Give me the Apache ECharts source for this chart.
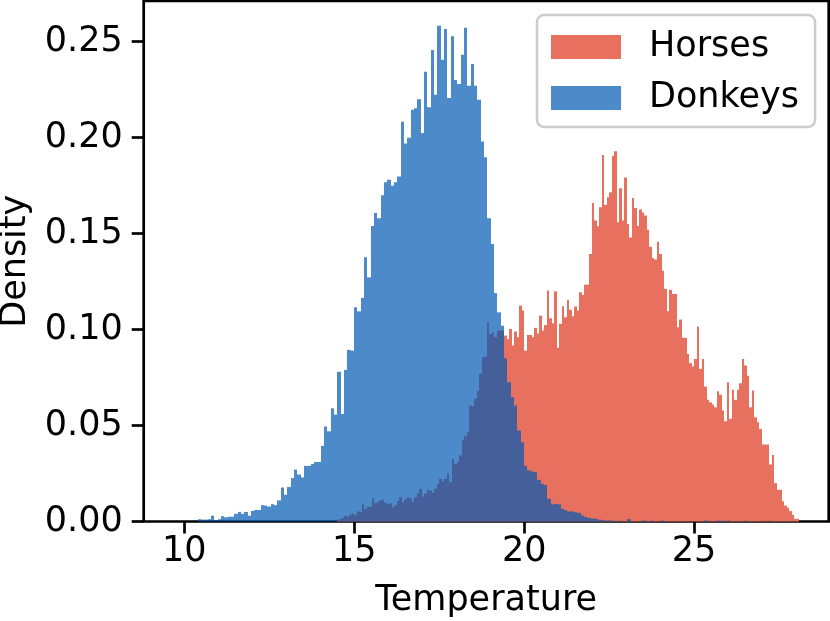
<!DOCTYPE html>
<html>
<head>
<meta charset="utf-8">
<script src="https://cdn.jsdelivr.net/npm/echarts@6/dist/echarts.min.js"></script>
<style>
  html, body {margin: 0; padding: 0; background: #fff;}
  #chart {width: 830px; height: 621px;}
</style>
</head>
<body>
<div id="chart"></div>
<script>
// density per bin
var horseStart = 14.49;
var horseBinWidth = 0.0735;
var horses = [
  0.0009, 0.0012, 0.002, 0.003, 0.0025, 0.0036, 0.004, 0.0035, 0.0054, 0.005,
  0.0089, 0.0065, 0.0078, 0.0075, 0.0123, 0.0095, 0.010, 0.011, 0.0115, 0.0098,
  0.009, 0.0095, 0.0072, 0.0085, 0.0105, 0.0127, 0.010, 0.0115, 0.0127, 0.012,
  0.010, 0.0125, 0.0144, 0.017, 0.013, 0.0145, 0.0165, 0.016, 0.015, 0.017,
  0.0196, 0.0222, 0.021, 0.0222, 0.0252, 0.0205, 0.0326, 0.030, 0.031, 0.0344,
  0.0425, 0.0445, 0.0465, 0.0604, 0.060, 0.064, 0.068, 0.0769, 0.0856, 0.086,
  0.1038, 0.0977, 0.0986, 0.096, 0.0995, 0.0995, 0.0995, 0.0969, 0.095, 0.1003,
  0.0917, 0.099, 0.096, 0.1125, 0.110, 0.089, 0.0972, 0.0972, 0.096, 0.1009,
  0.098, 0.1073, 0.0995, 0.1024, 0.1203, 0.1059, 0.1033, 0.1199, 0.0905, 0.103,
  0.1121, 0.1064, 0.1155, 0.1103, 0.107, 0.112, 0.110, 0.1194, 0.118, 0.1234,
  0.1234, 0.1394, 0.166, 0.1568, 0.1538, 0.1637, 0.191, 0.165, 0.169, 0.1715,
  0.1906, 0.1929, 0.1559, 0.1736, 0.1568, 0.1793, 0.155, 0.148, 0.1686, 0.1634,
  0.154, 0.1625, 0.161, 0.1594, 0.152, 0.1432, 0.1373, 0.1365, 0.1458, 0.1394,
  0.1307, 0.1212, 0.1095, 0.1207, 0.1186, 0.1186, 0.1012, 0.1052, 0.0957, 0.0957,
  0.0873, 0.0825, 0.0807, 0.0847, 0.1016, 0.0795, 0.0847, 0.0703, 0.0634, 0.0621,
  0.061, 0.0595, 0.0679, 0.0661, 0.0578, 0.0522, 0.0726, 0.0535, 0.0686, 0.0634,
  0.0686, 0.072, 0.0847, 0.0813, 0.076, 0.0595, 0.0682, 0.0543, 0.0517, 0.0482,
  0.0401, 0.0401, 0.0401, 0.0297, 0.0347, 0.020, 0.0165, 0.0165, 0.0106, 0.0083,
  0.0071, 0.0054, 0.0035, 0.0014, 0.0014
];

var donkeyStart = 10.39;
var donkeyBinWidth = 0.098;
var donkeys = [
  0.0012, 0.001, 0.001, 0.0012, 0.003, 0.0005, 0.0012, 0.0028, 0.0022, 0.0025,
  0.0025, 0.004, 0.005, 0.004, 0.005, 0.003, 0.0055, 0.006, 0.006, 0.0085,
  0.0083, 0.0078, 0.009, 0.0085, 0.011, 0.0177, 0.0139, 0.018, 0.0226, 0.027,
  0.0245, 0.023, 0.029, 0.029, 0.030, 0.031, 0.031, 0.0394, 0.0495, 0.047,
  0.059, 0.0557, 0.078, 0.056, 0.079, 0.0894, 0.089, 0.1116, 0.1095, 0.1165,
  0.1377, 0.1272, 0.154, 0.1607, 0.158, 0.170, 0.1767, 0.178, 0.175, 0.1767,
  0.1797, 0.2083, 0.197, 0.200, 0.2146, 0.2153, 0.220, 0.2024, 0.2344, 0.2158,
  0.2457, 0.2224, 0.2583, 0.2406, 0.2566, 0.2207, 0.2528, 0.230, 0.228, 0.2432,
  0.2573, 0.227, 0.2384, 0.227, 0.2198, 0.198, 0.1898, 0.158, 0.1446, 0.119,
  0.109, 0.102, 0.085, 0.0726, 0.0648, 0.0604, 0.0474, 0.0413, 0.029, 0.0266,
  0.026, 0.0257, 0.0217, 0.0196, 0.019, 0.0118, 0.0089, 0.0092, 0.009, 0.0066,
  0.006, 0.0052, 0.0052, 0.0048, 0.0045, 0.0031, 0.0025, 0.0019, 0.0015, 0.0015,
  0.001, 0.0008, 0.0005, 0.0006, 0.0005, 0, 0.0004, 0, 0, 0.0012,
  0, 0, 0, 0.0004, 0.0005, 0, 0.0004, 0, 0, 0.0005,
  0, 0, 0, 0, 0, 0, 0, 0, 0, 0,
  0, 0, 0.0005, 0.0004, 0, 0, 0.0005, 0.0004, 0, 0.0005,
  0, 0, 0, 0, 0.0004, 0, 0, 0, 0, 0,
  0, 0.0004
];

var xTicks = [10, 15, 20, 25];
var yTicks = [0, 0.05, 0.10, 0.15, 0.20, 0.25];

var font = 'DejaVu Sans';

function toBins(start, w, values) {
  return values.map(function (v, i) {
    return [start + i * w, start + (i + 1) * w, v];
  });
}

// one rect per bin; x edges snapped to whole pixels so neighbours don't leave seams
function histBar(color, opacity) {
  return function (params, api) {
    if (api.value(2) <= 0) return null;
    var p0 = api.coord([api.value(0), api.value(2)]);
    var p1 = api.coord([api.value(1), 0]);
    var x0 = Math.round(p0[0]), x1 = Math.round(p1[0]);
    return {
      type: 'rect',
      shape: {x: x0, y: p0[1], width: x1 - x0, height: p1[1] - p0[1]},
      style: {fill: color, opacity: opacity}
    };
  };
}

var chart = echarts.init(document.getElementById('chart'));
chart.setOption({
  animation: false,
  grid: {
    left: 143.7, top: 1, width: 685, height: 520.5,
    containLabel: false, outerBoundsMode: 'none',
    show: true, borderColor: '#000', borderWidth: 2.7, backgroundColor: 'transparent'
  },
  legend: {
    orient: 'vertical',
    left: 537, top: 15,
    icon: 'rect',
    itemWidth: 70, itemHeight: 24, itemGap: 11,
    padding: [12, 16, 9, 14],
    backgroundColor: 'rgba(255,255,255,0.8)',
    borderColor: '#cccccc', borderWidth: 2.5, borderRadius: 7,
    textStyle: {fontFamily: font, fontSize: 35, color: '#000', lineHeight: 40, padding: [0, 0, 0, 23]},
    data: [
      {name: 'Horses', itemStyle: {color: '#E8705F'}},
      {name: 'Donkeys', itemStyle: {color: '#4C8ACA'}}
    ]
  },
  xAxis: {
    type: 'value',
    min: 8.806, max: 28.96,
    name: 'Temperature', nameLocation: 'middle', nameGap: 62,
    nameTextStyle: {fontFamily: font, fontSize: 35, color: '#000'},
    axisLine: {show: false},
    splitLine: {show: false},
    axisTick: {show: true, inside: false, length: 12, customValues: xTicks, lineStyle: {color: '#000', width: 2.7}},
    axisLabel: {
      customValues: xTicks, margin: 13,
      fontFamily: font, fontSize: 35, color: '#000'
    }
  },
  yAxis: {
    type: 'value',
    min: 0, max: 0.2712,
    name: 'Density', nameLocation: 'middle', nameGap: 105,
    nameTextStyle: {fontFamily: font, fontSize: 35, color: '#000'},
    axisLine: {show: false},
    splitLine: {show: false},
    axisTick: {show: true, inside: false, length: 12, customValues: yTicks, lineStyle: {color: '#000', width: 2.7}},
    axisLabel: {
      customValues: yTicks, margin: 21,
      fontFamily: font, fontSize: 35, color: '#000',
      formatter: function (v) { return v.toFixed(2); }
    }
  },
  series: [
    {
      name: 'Horses',
      type: 'custom',
      renderItem: histBar('#E8705F', 1),
      encode: {x: [0, 1], y: 2},
      itemStyle: {color: '#E8705F'},
      data: toBins(horseStart, horseBinWidth, horses)
    },
    {
      name: 'Donkeys',
      type: 'custom',
      renderItem: histBar('#0058B3', 0.7),
      encode: {x: [0, 1], y: 2},
      itemStyle: {color: '#4C8ACA'},
      data: toBins(donkeyStart, donkeyBinWidth, donkeys)
    }
  ]
});
</script>
</body>
</html>
